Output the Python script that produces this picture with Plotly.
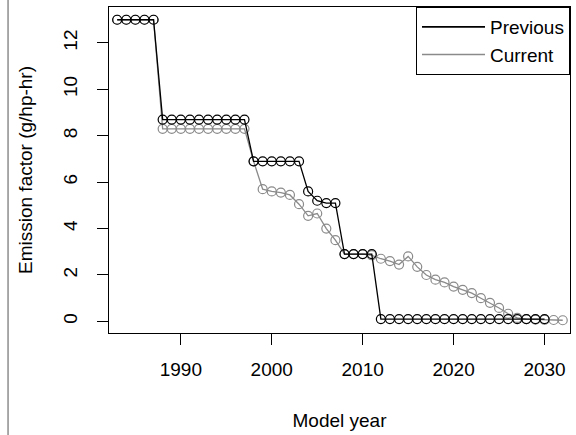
import plotly.graph_objects as go

# ---- data ----
prev_years = list(range(1983, 2031))
prev_values = ([13.0] * 5 + [8.7] * 10 + [6.9] * 6 +
               [5.6, 5.2, 5.1, 5.1] + [2.9] * 4 + [0.1] * 19)

cur_years = list(range(1983, 2033))
cur_values = ([13.0] * 5 + [8.3] * 10 +
              [6.9, 5.7, 5.6, 5.55, 5.45, 5.05, 4.55, 4.65, 4.0, 3.5] +
              [2.9, 2.9, 2.9, 2.85] +
              [2.7, 2.6, 2.45, 2.8, 2.35, 2.0, 1.8, 1.68, 1.5, 1.36,
               1.22, 1.0, 0.8, 0.58, 0.33, 0.15, 0.1, 0.08, 0.07, 0.06, 0.05])

series_names = ["Previous", "Current"]
series_colors = ["#000000", "#8a8a8a"]

x_ticks = [1990, 2000, 2010, 2020, 2030]
y_ticks = [0, 2, 4, 6, 8, 10, 12]

FONT = "Liberation Sans, Arial, Helvetica, sans-serif"

fig = go.Figure()

# draw Current first so Previous sits on top where they overlap
data = list(zip(series_names, [prev_years, cur_years],
                [prev_values, cur_values], series_colors))
for name, xs, ys, col in reversed(data):
    fig.add_trace(go.Scatter(
        x=xs, y=ys, mode="lines+markers", name=name, showlegend=False,
        line=dict(color=col, width=1.3),
        marker=dict(symbol="circle-open", size=9, color=col,
                    line=dict(width=1.2, color=col)),
    ))

# legend-only entries (lines without markers, as in the reference)
for name, col in zip(series_names, series_colors):
    fig.add_trace(go.Scatter(
        x=[None], y=[None], mode="lines", name=name,
        line=dict(color=col, width=1.6),
    ))

fig.update_layout(
    width=576, height=435,
    margin=dict(l=109, r=6, t=7, b=102),
    paper_bgcolor="white", plot_bgcolor="white",
    font=dict(family=FONT, size=19, color="black"),
    showlegend=True,
    legend=dict(x=1, y=1, xanchor="right", yanchor="top",
                bordercolor="black", borderwidth=1, bgcolor="white",
                font=dict(size=19), tracegroupgap=0, itemwidth=63),
    xaxis=dict(
        range=[1982.1, 2032.8], tickvals=x_ticks, ticks="outside",
        ticklen=11, tickcolor="black", showgrid=False, zeroline=False,
        showline=True, linecolor="black", linewidth=1, mirror=True,
        ticklabelstandoff=8,
        title=dict(text="Model year", standoff=34,
                   font=dict(size=19)),
    ),
    yaxis=dict(
        range=[-0.5, 13.55], tickvals=y_ticks, ticks="outside",
        ticklen=11, tickcolor="black", showgrid=False, zeroline=False,
        showline=True, linecolor="black", linewidth=1, mirror=True,
        tickangle=-90, ticklabelstandoff=12,
        title=dict(text="Emission factor (g/hp-hr)", standoff=22,
                   font=dict(size=19)),
    ),
    shapes=[dict(type="line", xref="paper", yref="paper",
                 x0=-0.219, x1=-0.219, y0=-0.32, y1=1.03,
                 line=dict(color="#555555", width=1))],
)

fig.write_html("out.html")
